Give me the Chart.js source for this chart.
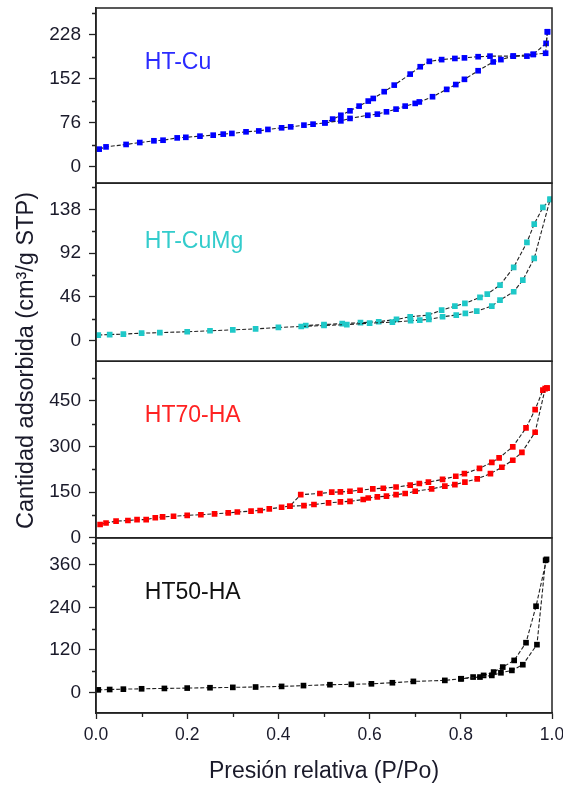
<!DOCTYPE html>
<html>
<head>
<meta charset="utf-8">
<script src="https://cdn.jsdelivr.net/npm/chart.js@4"></script>
<style>
  html, body { margin: 0; padding: 0; background: #fff; }
  #isoChart { display: block; }
</style>
</head>
<body>
<canvas id="isoChart" width="563" height="785"></canvas>
<script>
// HT-Cu
const cuAdsP = [0.007, 0.022, 0.066, 0.096, 0.127, 0.147, 0.178, 0.197, 0.228, 0.257, 0.279, 0.298, 0.329, 0.357, 0.377, 0.407, 0.427, 0.456, 0.476, 0.502, 0.537, 0.557, 0.596, 0.617, 0.637, 0.658, 0.678, 0.700, 0.709, 0.738, 0.769, 0.789, 0.808, 0.838, 0.871, 0.888, 0.915, 0.945, 0.959, 0.986, 0.990];
const cuAdsV = [30.6, 34.5, 38.7, 42, 45, 46, 50, 51, 53, 54.7, 56.5, 57.7, 60.5, 62, 64.6, 67.4, 69, 72, 73.7, 76, 79.4, 83.6, 89, 91, 95, 99.6, 104.8, 109.5, 112, 121, 133.7, 142, 151, 165.8, 181, 185, 191, 191, 194, 196, 233];
const cuDesP = [0.990, 0.987, 0.959, 0.915, 0.864, 0.838, 0.808, 0.787, 0.758, 0.731, 0.711, 0.689, 0.654, 0.632, 0.608, 0.597, 0.577, 0.557, 0.537, 0.519, 0.502];
const cuDesV = [233, 213, 194, 191, 191, 190, 188, 187, 185, 182, 172.7, 160, 141, 129.7, 118, 113.5, 104.8, 96.7, 89, 82.4, 76];

// HT-CuMg
const cumgAdsP = [0.005, 0.03, 0.06, 0.1, 0.14, 0.2, 0.25, 0.3, 0.35, 0.4, 0.45, 0.5, 0.55, 0.6, 0.65, 0.69, 0.71, 0.73, 0.76, 0.79, 0.81, 0.835, 0.868, 0.886, 0.916, 0.936, 0.961, 0.996];
const cumgAdsV = [6, 6.5, 7, 8, 8.5, 9.5, 10.5, 11.5, 12.5, 14, 15, 16, 17, 18.5, 19.5, 21, 21.7, 22.4, 25.2, 27, 28.8, 31.2, 36.4, 42.7, 51.5, 63.7, 86.5, 148.5];
const cumgDesP = [0.996, 0.98, 0.961, 0.945, 0.916, 0.886, 0.858, 0.842, 0.809, 0.787, 0.758, 0.729, 0.689, 0.659, 0.62, 0.58, 0.54, 0.5, 0.46];
const cumgDesV = [148.5, 140, 122.5, 103.3, 77, 58.5, 49, 45.6, 39.3, 36.4, 32.2, 27, 25.2, 22.4, 20, 19, 18, 17, 16];

// HT70-HA
const ht70AdsP = [0.009, 0.022, 0.044, 0.07, 0.09, 0.11, 0.13, 0.146, 0.17, 0.2, 0.23, 0.26, 0.29, 0.31, 0.34, 0.36, 0.38, 0.407, 0.425, 0.456, 0.478, 0.51, 0.536, 0.557, 0.586, 0.597, 0.617, 0.637, 0.658, 0.678, 0.70, 0.736, 0.765, 0.787, 0.809, 0.836, 0.865, 0.89, 0.914, 0.934, 0.963, 0.985, 0.989];
const ht70AdsV = [44, 49, 55, 57, 60, 60, 66, 69, 71, 74, 76, 79, 82, 85, 88, 90, 95, 100.7, 104, 106, 109.6, 115, 118, 120, 126, 131, 134.6, 137, 142, 145.7, 153, 161, 170, 175, 183, 194, 211, 232, 255, 281, 347, 490, 492];
const ht70DesP = [0.989, 0.98, 0.963, 0.943, 0.914, 0.884, 0.868, 0.841, 0.808, 0.789, 0.76, 0.729, 0.709, 0.689, 0.658, 0.63, 0.607, 0.579, 0.557, 0.536, 0.517, 0.491, 0.449, 0.425];
const ht70DesV = [492, 485, 421, 361, 299, 262.6, 248, 228, 211, 202.5, 192, 183, 178.5, 173, 167, 163, 161, 156.5, 153, 151, 150, 145.7, 142, 104];

// HT50-HA
const ht50AdsP = [0.005, 0.03, 0.06, 0.1, 0.15, 0.2, 0.25, 0.3, 0.35, 0.407, 0.455, 0.513, 0.56, 0.604, 0.65, 0.696, 0.765, 0.801, 0.842, 0.868, 0.888, 0.912, 0.936, 0.967, 0.986];
const ht50AdsV = [8, 9, 10, 11, 12, 13, 14, 15, 16, 17.7, 20, 22.5, 23.5, 25, 28, 31.8, 34.6, 39.3, 44, 48.6, 56, 62.7, 78.7, 135, 372];
const ht50DesP = [0.988, 0.965, 0.943, 0.917, 0.892, 0.872, 0.85, 0.827, 0.80];
const ht50DesV = [374.6, 243, 140.5, 90.8, 72, 58, 48.6, 44, 39];

// tick labels
const xTicks = [0, 0.2, 0.4, 0.6, 0.8, 1.0];
const yTicksCu = [0, 76, 152, 228];
const yTicksCuMg = [0, 46, 92, 138];
const yTicksHT70 = [0, 150, 300, 450];
const yTicksHT50 = [0, 120, 240, 360];

const panelNames = ['HT-Cu', 'HT-CuMg', 'HT70-HA', 'HT50-HA'];
const panelColors = ['#0000ff', '#1ec8c8', '#ff0000', '#000000'];
const labelColors = ['#2b2bff', '#33cccc', '#ff2222', '#111111'];
const labelAnchorY = [180, 104, 400, 282];
const yMins = [-28, -21.5, 0, -57];
const yMaxs = [274, 165.5, 580, 435];
const yMinor = [38, 23, 75, 60];
const yTickSets = [yTicksCu, yTicksCuMg, yTicksHT70, yTicksHT50];
const panelWeights = [175, 178, 176.5, 175];
const axisIds = ['yA', 'yB', 'yC', 'yD'];

function pts(px, py) {
  return px.map((p, i) => ({ x: p, y: py[i] }));
}

const series = [
  [cuAdsP, cuAdsV, cuDesP, cuDesV],
  [cumgAdsP, cumgAdsV, cumgDesP, cumgDesV],
  [ht70AdsP, ht70AdsV, ht70DesP, ht70DesV],
  [ht50AdsP, ht50AdsV, ht50DesP, ht50DesV]
];

const datasets = [];
series.forEach((s, k) => {
  [[s[0], s[1], 'ads'], [s[2], s[3], 'des']].forEach(pair => {
    datasets.push({
      label: panelNames[k] + ' ' + pair[2],
      data: pts(pair[0], pair[1]),
      yAxisID: axisIds[k],
      xAxisID: 'x',
      borderColor: '#222',
      borderWidth: 1.1,
      borderDash: [4, 2],
      pointStyle: 'rect',
      pointRadius: 4,
      pointBorderWidth: 0,
      pointBackgroundColor: panelColors[k],
      pointBorderColor: panelColors[k],
      fill: false,
      tension: 0
    });
  });
});

const fontFamily = '"Liberation Sans", Arial, sans-serif';
const textColor = '#1a1a2a';
const frameColor = '#222';

function yScale(k) {
  return {
    type: 'linear',
    position: 'left',
    stack: 'panels',
    stackWeight: panelWeights[k],
    min: yMins[k],
    max: yMaxs[k],
    afterBuildTicks: s => { s.ticks = yTickSets[k].map(v => ({ value: v })); },
    afterFit: s => { s.width = 96; s.paddingTop = 0; s.paddingBottom = 0; },
    border: { display: true, color: frameColor, width: 1.5 },
    grid: { drawOnChartArea: false, tickLength: 7, tickColor: frameColor, tickWidth: 1.3 },
    ticks: { padding: 8, color: textColor, font: { family: fontFamily, size: 19 } }
  };
}

const scales = {
  x: {
    type: 'linear',
    position: 'bottom',
    min: 0,
    max: 1,
    afterBuildTicks: s => { s.ticks = xTicks.map(v => ({ value: v })); },
    afterFit: s => { s.height = 72; s.paddingLeft = 0; s.paddingRight = 0; },
    border: { display: true, color: frameColor, width: 1.5 },
    grid: { drawOnChartArea: false, tickLength: 6, tickColor: frameColor, tickWidth: 1.3 },
    ticks: {
      padding: 6,
      color: textColor,
      font: { family: fontFamily, size: 17.5 },
      callback: v => Number(v).toFixed(1)
    },
    title: {
      display: true,
      text: 'Presión relativa (P/Po)',
      color: textColor,
      font: { family: fontFamily, size: 23 },
      padding: { top: 0, bottom: 0 }
    }
  }
};
// later-defined stacked axes end up on top, so add the bottom panel first
for (let k = 3; k >= 0; k--) scales[axisIds[k]] = yScale(k);

const decor = {
  id: 'decor',
  afterDraw(chart) {
    const { ctx, chartArea, scales: sc } = chart;
    const xs = sc.x;
    ctx.save();
    ctx.strokeStyle = frameColor;
    ctx.lineWidth = 1.3;

    // minor ticks
    ctx.beginPath();
    axisIds.forEach((id, k) => {
      const s = sc[id];
      const first = Math.ceil(yMins[k] / yMinor[k]) * yMinor[k];
      for (let v = first; v <= yMaxs[k]; v += yMinor[k]) {
        if (yTickSets[k].includes(v)) continue;
        const py = Math.round(s.getPixelForValue(v)) + 0.5;
        ctx.moveTo(chartArea.left - 4, py);
        ctx.lineTo(chartArea.left, py);
      }
    });
    for (let i = 1; i < 10; i += 2) {
      const px = Math.round(xs.getPixelForValue(i / 10)) + 0.5;
      ctx.moveTo(px, chartArea.bottom);
      ctx.lineTo(px, chartArea.bottom + 4);
    }
    ctx.stroke();

    // panel frames
    ctx.lineWidth = 1.5;
    axisIds.forEach(id => {
      const s = sc[id];
      ctx.strokeRect(chartArea.left, s.top, chartArea.right - chartArea.left, s.bottom - s.top);
    });

    // panel labels
    ctx.font = '23px ' + fontFamily;
    ctx.textBaseline = 'middle';
    ctx.textAlign = 'left';
    axisIds.forEach((id, k) => {
      ctx.fillStyle = labelColors[k];
      ctx.fillText(panelNames[k], xs.getPixelForValue(0.107), sc[id].getPixelForValue(labelAnchorY[k]));
    });

    // shared y title
    ctx.fillStyle = textColor;
    ctx.font = '23.5px ' + fontFamily;
    ctx.translate(27, (chartArea.top + chartArea.bottom) / 2);
    ctx.rotate(-Math.PI / 2);
    ctx.textAlign = 'center';
    ctx.fillText('Cantidad adsorbida (cm³/g STP)', 0, 0);
    ctx.restore();
  }
};

new Chart(document.getElementById('isoChart').getContext('2d'), {
  type: 'line',
  data: { datasets: datasets },
  options: {
    responsive: false,
    animation: false,
    layout: { padding: { top: 8, right: 11, bottom: 0, left: 0 } },
    scales: scales,
    plugins: {
      legend: { display: false },
      tooltip: { enabled: false }
    }
  },
  plugins: [decor]
});
</script>
</body>
</html>
